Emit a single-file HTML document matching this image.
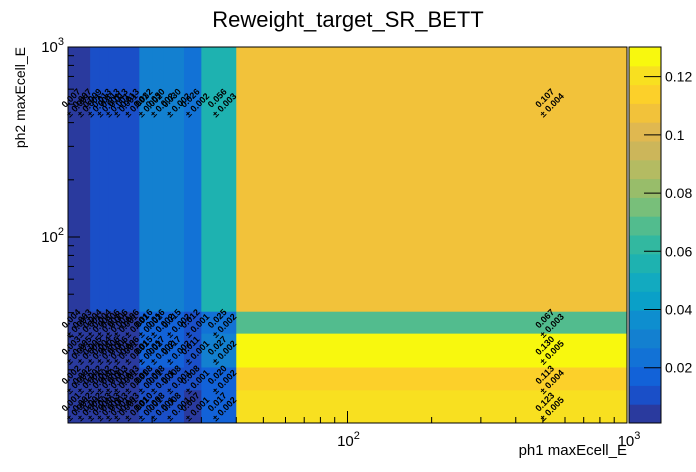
<!DOCTYPE html>
<html><head><meta charset="utf-8"><style>
body{margin:0;background:#fff;}
svg{display:block;font-family:"Liberation Sans",sans-serif;}
</style></head><body>
<svg id="chart" width="696" height="472" viewBox="0 0 696 472">
<rect width="696" height="472" fill="#fff"/>
<text x="348" y="27" font-size="22" text-anchor="middle">Reweight_target_SR_BETT</text>
<g id="cells"></g>
<g id="labels"></g>
<g id="axes"></g>
<g id="palette"></g>
<text x="627" y="455" font-size="15" text-anchor="end">ph1 maxEcell_E</text>
<text transform="translate(25,47) rotate(-90)" font-size="14" text-anchor="end">ph2 maxEcell_E</text>
</svg>
<script>
const xEdges=[10,11,12,13,14,15,16,18,20,22,26,30,40,1000];
const yEdges=[10.5,15.7,20.7,31.2,40.7,1000];
const values=[
[0.001,0.002,0.002,0.003,0.003,0.003,0.003,0.010,0.008,0.008,0.007,0.017,0.123],
[0.002,0.002,0.002,0.002,0.003,0.003,0.003,0.008,0.008,0.008,0.008,0.020,0.113],
[0.003,0.005,0.005,0.004,0.006,0.006,0.006,0.015,0.017,0.017,0.011,0.027,0.130],
[0.004,0.003,0.004,0.004,0.006,0.006,0.006,0.016,0.016,0.015,0.012,0.025,0.067],
[0.007,0.007,0.009,0.013,0.013,0.013,0.013,0.032,0.030,0.030,0.026,0.056,0.107]];
const errors=[
[0.001,0.001,0.001,0.001,0.001,0.001,0.001,0.001,0.001,0.001,0.001,0.002,0.005],
[0.001,0.001,0.001,0.001,0.001,0.001,0.001,0.001,0.001,0.001,0.001,0.002,0.004],
[0.001,0.001,0.001,0.001,0.001,0.001,0.001,0.002,0.002,0.002,0.001,0.002,0.005],
[0.001,0.001,0.001,0.001,0.001,0.001,0.001,0.002,0.002,0.002,0.001,0.002,0.003],
[0.001,0.001,0.001,0.001,0.001,0.001,0.001,0.002,0.002,0.002,0.002,0.003,0.004]];
const paletteColors=["#2a3a9e","#1a4fc8","#1262d8","#1272d6","#1380d0","#0e8ecf","#0aa0c8","#12aac0","#1eb2b0","#32b8a0","#52bc8e","#78bf7a","#98bd6a","#b4bb62","#ccb65a","#e0b850","#f2c23a","#fcd02a","#f8e020","#f8f80e"];
const paletteTicks=[0.02,0.04,0.06,0.08,0.1,0.12];
const zMin=0.001, zMax=0.1302;
const X0=68,X1=627,Y0=423,Y1=47;
const xLo=1,xHi=3,yLo=Math.log10(10.5),yHi=3;
const NS="http://www.w3.org/2000/svg";
function xs(v){return X0+(Math.log10(v)-xLo)/(xHi-xLo)*(X1-X0);}
function ys(v){return Y0-(Math.log10(v)-yLo)/(yHi-yLo)*(Y0-Y1);}
function zs(v){return Y0-(v-zMin)/(zMax-zMin)*(Y0-Y1);}
function color(v){let i=Math.floor((v-zMin)/(zMax-zMin)*paletteColors.length);i=Math.max(0,Math.min(paletteColors.length-1,i));return paletteColors[i];}
function mk(tag,attrs,parent){const e=document.createElementNS(NS,tag);for(const k in attrs)e.setAttribute(k,attrs[k]);parent.appendChild(e);return e;}
const cells=document.getElementById('cells'),labels=document.getElementById('labels'),axes=document.getElementById('axes'),pal=document.getElementById('palette');
for(let r=0;r<values.length;r++){for(let c=0;c<values[r].length;c++){
 const x=xs(xEdges[c]),x2=xs(xEdges[c+1]),y=ys(yEdges[r+1]),y2=ys(yEdges[r]);
 const rc=mk('rect',{x:x,y:y,width:x2-x+0.5,height:y2-y+0.5,fill:color(values[r][c])},cells);
 
 
 const cx=xs((xEdges[c]+xEdges[c+1])/2),cy=ys((yEdges[r]+yEdges[r+1])/2);
 const t=mk('text',{transform:`translate(${cx},${cy}) rotate(-45)`,'font-size':9,'font-weight':'bold','text-anchor':'middle'},labels);
 
 
 const t1=mk('tspan',{x:0,dy:-1},t);t1.textContent=values[r][c].toFixed(3);
 const t2=mk('tspan',{x:0,dy:10},t);t2.textContent='± '+errors[r][c].toFixed(3);
}}
const fr=mk('rect',{x:X0,y:Y1,width:X1-X0,height:Y0-Y1,fill:'none',stroke:'#000','stroke-width':1},axes);


for(let d=10;d<1000;d*=10){for(let m=1;m<=10;m++){const v=d*m;if(v<=10||v>=1000)continue;const x=xs(v);const L=(m===10)?12:6;
 const tk=mk('line',{x1:x,x2:x,y1:Y0,y2:Y0-L,stroke:'#000'},axes);}}
for(let m=2;m<=9;m++){const y=ys(10*m);const tk=mk('line',{x1:X0,x2:X0+6,y1:y,y2:y,stroke:'#000'},axes);}
for(let m=1;m<=9;m++){const v=100*m;const y=ys(v);const L=m===1?12:6;const tk=mk('line',{x1:X0,x2:X0+L,y1:y,y2:y,stroke:'#000'},axes);}
function pow(x,y,anchor,exp,name){const t=mk('text',{x:x,y:y,'font-size':15,'text-anchor':anchor},axes);
 const a=mk('tspan',{},t);a.textContent='10';const b=mk('tspan',{dy:-7,'font-size':11},t);b.textContent=exp;}
pow(xs(100)+1,446,'middle','2','x-tick-label-100');
pow(X1+2,446,'middle','3','x-tick-label-1000');
pow(X0-4,ys(1000)+5,'end','3','y-tick-label-1000');
pow(X0-4,ys(100)+5,'end','2','y-tick-label-100');
const PX=629,PW=32;const n=paletteColors.length;
for(let i=0;i<n;i++){const v0=zMin+(zMax-zMin)*i/n,v1=zMin+(zMax-zMin)*(i+1)/n;
 const r=mk('rect',{x:PX,y:zs(v1),width:PW,height:zs(v0)-zs(v1)+0.5,fill:paletteColors[i]},pal);
 }
const pf=mk('rect',{x:PX,y:Y1,width:PW,height:Y0-Y1,fill:'none',stroke:'#000'},pal);

for(const v of paletteTicks){const y=zs(v);
 const l=mk('line',{x1:PX+PW-17,x2:PX+PW,y1:y,y2:y,stroke:'#000'},pal);
 const t=mk('text',{x:PX+PW+4,y:y+5,'font-size':14},pal);t.textContent=String(v);}
</script>
</body></html>
